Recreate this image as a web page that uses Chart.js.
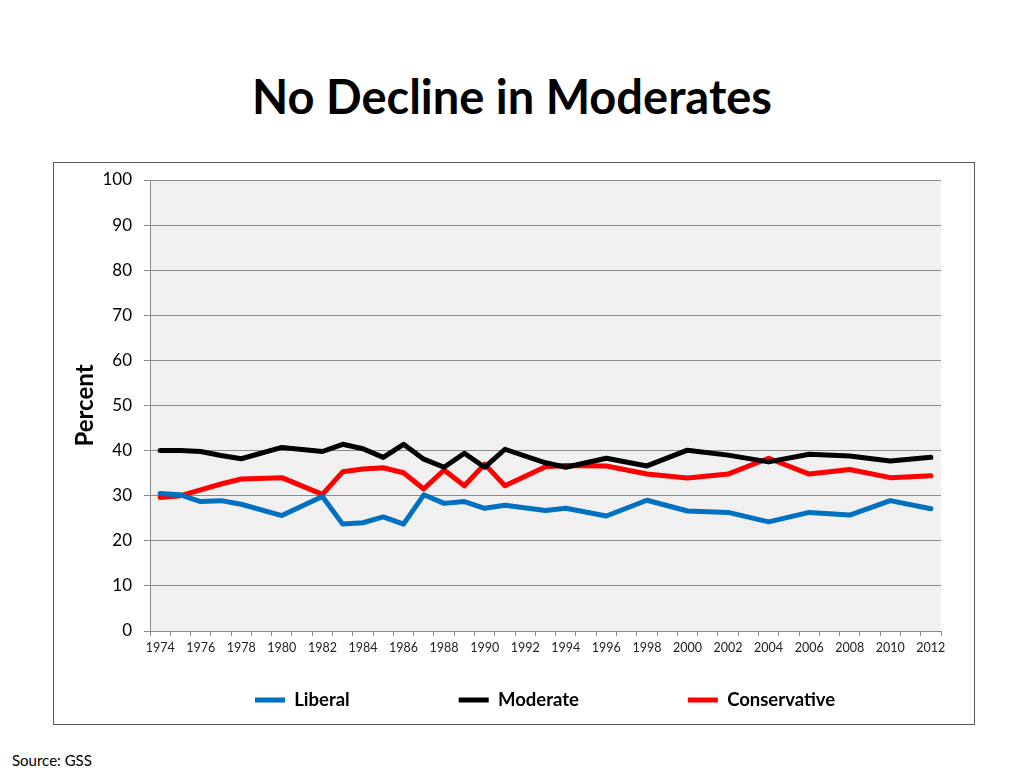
<!DOCTYPE html>
<html>
<head>
<meta charset="utf-8">
<script src="https://cdn.jsdelivr.net/npm/chart.js@4.4.1/dist/chart.umd.min.js"></script>
<style>
  html, body { margin:0; padding:0; background:#fff; width:1024px; height:768px; overflow:hidden; font-family: Lato, "Open Sans", sans-serif; }
  #title { position:absolute; left:0; top:68px; width:1024px; text-align:center; font-weight:bold; font-size:47px; line-height:56px; color:#000; }
  #box { position:absolute; left:53px; top:162px; width:922px; height:563px; box-sizing:border-box; border:1px solid #595959; }
  #wrap { position:absolute; left:53px; top:162px; width:921px; height:562px; }
  #source { position:absolute; left:12px; top:750px; font-size:15px; line-height:20px; color:#000; }
</style>
</head>
<body>
<div id="title">No Decline in Moderates</div>
<div id="box"></div>
<div id="wrap"><canvas id="c" width="921" height="562"></canvas></div>
<div id="source">Source: GSS</div>
<script>
// ---- data ----
const surveyYears = [1974,1975,1976,1977,1978,1980,1982,1983,1984,1985,1986,1987,1988,1989,1990,1991,1993,1994,1996,1998,2000,2002,2004,2006,2008,2010,2012];
const liberal      = [30.5,30.2,28.7,28.9,28.1,25.6,29.8,23.7,24.0,25.3,23.7,30.2,28.3,28.7,27.2,27.9,26.7,27.2,25.5,29.0,26.6,26.3,24.2,26.3,25.7,28.9,27.1];
const moderate     = [40.0,40.0,39.8,38.9,38.2,40.7,39.8,41.4,40.4,38.5,41.4,38.1,36.3,39.4,36.3,40.3,37.3,36.3,38.3,36.6,40.1,39.0,37.5,39.2,38.8,37.7,38.5];
const conservative = [29.6,30.0,31.3,32.6,33.7,34.0,30.3,35.3,35.9,36.2,35.1,31.5,35.7,32.2,37.0,32.2,36.4,36.7,36.6,34.8,33.9,34.8,38.3,34.8,35.8,34.0,34.4];
const seriesNames  = ["Liberal","Moderate","Conservative"];
const seriesColors = ["#0070C0","#000000","#FF0000"];
const firstYear = 1974, lastYear = 2012;
const axisYears = [];
for (let y = firstYear; y <= lastYear; y++) axisYears.push(String(y));
const yTitle = "Percent";

function pts(vals){ return surveyYears.map((y,i)=>({x:String(y), y:vals[i]})); }

const FONT = 'Lato, "Open Sans", sans-serif';

const areaBg = {
  id:'areaBg',
  beforeDraw(chart){
    const a = chart.chartArea, ctx = chart.ctx;
    ctx.save(); ctx.fillStyle = '#F0F0F0';
    ctx.fillRect(a.left, a.top, a.right-a.left, a.bottom-a.top);
    ctx.restore();
  }
};
const LEG_CENTER_Y = 538, LEG_START_X = 202;
const legendPlacer = {
  id:'legendPlacer',
  afterLayout(chart){
    const lg = chart.legend; if (!lg || !lg.lineWidths) return;
    const pad = lg.options.labels.padding;
    const fs = lg.options.labels.font.size;
    lg.top = LEG_CENTER_Y - pad - fs/2;
    lg.bottom = LEG_CENTER_Y + 20;
    lg.height = lg.bottom - lg.top;
    const start = (lg.left + pad + lg.right - lg.lineWidths[0]) / 2;
    const shift = LEG_START_X - start;
    lg.left += shift; lg.right += shift;
  }
};

const datasets = [liberal, moderate, conservative].map((vals,i)=>({
  label: seriesNames[i],
  data: pts(vals),
  borderColor: seriesColors[i],
  backgroundColor: seriesColors[i],
  borderWidth: 5,
  borderCapStyle: 'round',
  borderJoinStyle: 'round',
  pointRadius: 0,
  pointHoverRadius: 0,
  pointStyle: 'line',
  tension: 0,
  spanGaps: true,
  fill: false
}));

new Chart(document.getElementById('c'), {
  type: 'line',
  data: { labels: axisYears, datasets },
  plugins: [areaBg, legendPlacer],
  options: {
    responsive: false,
    animation: false,
    devicePixelRatio: 1,
    layout: { padding: { left: 0, top: 18, right: 33, bottom: 0 } },
    plugins: {
      title: { display: false },
      tooltip: { enabled: false },
      legend: {
        position: 'bottom',
        maxHeight: 63,
        labels: {
          usePointStyle: true,
          pointStyleWidth: 30,
          padding: 109,
          color: '#000',
          font: { family: FONT, size: 18.5, weight: 'bold' }
        }
      }
    },
    scales: {
      x: {
        type: 'category',
        offset: true,
        afterFit(s){ s.height = 30; },
        grid: { display: true, offset: true, drawOnChartArea: false, drawTicks: true, tickLength: 5, color: '#8c8c8c' },
        border: { display: true, color: '#8c8c8c' },
        ticks: {
          autoSkip: false, maxRotation: 0, minRotation: 0, padding: 4,
          color: '#222', font: { family: FONT, size: 12.5 },
          callback(v, i){ const yr = Number(axisYears[i]); return (yr - firstYear) % 2 === 0 ? axisYears[i] : ''; }
        }
      },
      y: {
        min: 0, max: 100,
        afterFit(s){ s.width = 97; s.paddingTop = 2; },
        grid: { color: '#8c8c8c', tickLength: 6, drawTicks: true },
        border: { display: true, color: '#8c8c8c' },
        ticks: { stepSize: 10, padding: 12, color: '#000', font: { family: FONT, size: 17 } },
        title: { display: true, text: yTitle, color: '#000', padding: { top: 18, bottom: 0 }, font: { family: FONT, size: 24, weight: 'bold' } }
      }
    }
  }
});
</script>
</body>
</html>
